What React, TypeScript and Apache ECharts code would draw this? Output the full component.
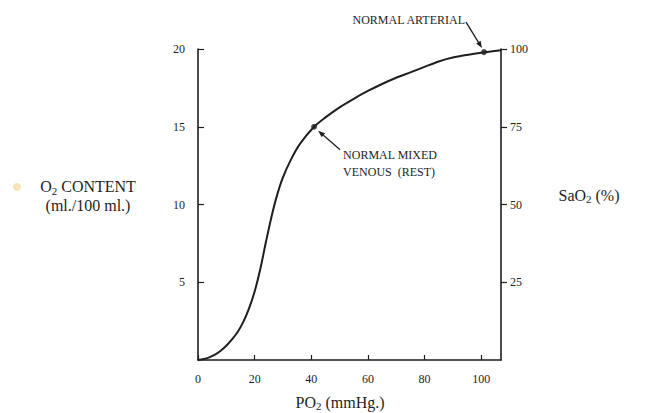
import React, { useEffect, useRef } from "react";
import * as echarts from "echarts";

const po2 = [0, 2, 4, 6, 8, 10, 12, 14, 16, 18, 20, 22, 24, 26, 28, 30, 33, 36, 41, 45, 50, 55, 60, 65, 70, 75, 80, 85, 90, 95, 100, 107];
const o2Content = [0, 0.06, 0.17, 0.34, 0.6, 0.92, 1.32, 1.8, 2.45, 3.3, 4.4, 5.85, 7.6, 9.25, 10.65, 11.75, 12.95, 13.9, 15.0, 15.6, 16.25, 16.8, 17.3, 17.75, 18.15, 18.5, 18.85, 19.2, 19.45, 19.62, 19.76, 19.92];
const keyPo2 = [41, 101];
const keyContent = [15, 19.8];
const xTicks = [0, 20, 40, 60, 80, 100];

const FONT = "Liberation Serif";
const INK = "#1e1e1e";

function arrow(x1: number, y1: number, x2: number, y2: number) {
  const ang = Math.atan2(y2 - y1, x2 - x1);
  const len = 7;
  const w = 2.6;
  const bx = x2 - len * Math.cos(ang);
  const by = y2 - len * Math.sin(ang);
  const px = -Math.sin(ang) * w;
  const py = Math.cos(ang) * w;
  return [
    { type: "line", shape: { x1, y1, x2: bx, y2: by }, style: { stroke: INK, lineWidth: 1.3 } },
    {
      type: "polygon",
      shape: { points: [[x2, y2], [bx + px, by + py], [bx - px, by - py]] },
      style: { fill: INK },
    },
  ];
}

export default function App() {
  const ref = useRef<HTMLDivElement>(null);
  useEffect(() => {
    if (!ref.current) return;
    document.body.style.margin = "0";
    const chart = echarts.init(ref.current, null, { renderer: "svg" });
    const axisCommon = {
      axisLine: { show: true, lineStyle: { color: INK, width: 1.6 } },
      splitLine: { show: false },
      axisLabel: { color: INK, fontFamily: FONT, fontSize: 12 },
    };
    chart.setOption({
      animation: false,
      backgroundColor: "#ffffff",
      grid: { left: 198, right: 150, top: 49, bottom: 53, containLabel: false },
      xAxis: {
        type: "value",
        min: 0,
        max: 107,
        interval: 20,
        ...axisCommon,
        axisTick: { show: true, inside: true, length: 5, lineStyle: { color: INK, width: 1.2 } },
        axisLabel: {
          ...axisCommon.axisLabel,
          margin: 13,
          showMaxLabel: false,
          formatter: (v: number) => (xTicks.indexOf(v) >= 0 ? String(v) : ""),
        },
      },
      yAxis: [
        {
          type: "value",
          min: 0,
          max: 20,
          interval: 5,
          position: "left",
          ...axisCommon,
          axisTick: { show: true, inside: true, length: 6, lineStyle: { color: INK, width: 1.2 } },
          axisLabel: { ...axisCommon.axisLabel, margin: 13, showMinLabel: false },
        },
        {
          type: "value",
          min: 0,
          max: 100,
          interval: 25,
          position: "right",
          ...axisCommon,
          axisTick: { show: true, inside: false, length: 6, lineStyle: { color: INK, width: 1.2 } },
          axisLabel: { ...axisCommon.axisLabel, margin: 9, showMinLabel: false },
        },
      ],
      series: [
        {
          type: "line",
          data: po2.map((x, i) => [x, o2Content[i]]),
          smooth: 0.3,
          showSymbol: false,
          lineStyle: { color: INK, width: 2 },
        },
        {
          type: "scatter",
          data: keyPo2.map((x, i) => [x, keyContent[i]]),
          symbolSize: 6,
          itemStyle: { color: INK },
        },
      ],
    });

    const ven = chart.convertToPixel({ xAxisIndex: 0, yAxisIndex: 0 }, [keyPo2[0], keyContent[0]]) as number[];
    const art = chart.convertToPixel({ xAxisIndex: 0, yAxisIndex: 0 }, [keyPo2[1], keyContent[1]]) as number[];

    const txt = (x: number, y: number, text: string, size: number, align = "left") => ({
      type: "text",
      x,
      y,
      style: { text, fill: INK, font: `${size}px "${FONT}"`, align, verticalAlign: "middle" },
    });
    const richStyle = {
      a: { fontFamily: FONT, fontSize: 16, lineHeight: 19, fill: INK, verticalAlign: "middle" },
      s: { fontFamily: FONT, fontSize: 11, lineHeight: 11, fill: INK, verticalAlign: "bottom" },
    };

    chart.setOption({
      graphic: [
        { type: "circle", shape: { cx: 17, cy: 187, r: 4 }, style: { fill: "#f4e4b8" } },
        {
          type: "text",
          x: 88,
          y: 196,
          style: {
            text: "{a|O}{s|2}{a| CONTENT}\n{a|(ml./100 ml.)}",
            align: "center",
            verticalAlign: "middle",
            fill: INK,
            rich: richStyle,
          },
        },
        {
          type: "text",
          x: 589,
          y: 195,
          style: { text: "{a|SaO}{s|2}{a| (%)}", align: "center", verticalAlign: "middle", fill: INK, rich: richStyle },
        },
        {
          type: "text",
          x: 340,
          y: 402,
          style: { text: "{a|PO}{s|2}{a| (mmHg.)}", align: "center", verticalAlign: "middle", fill: INK, rich: richStyle },
        },
        txt(art[0] - 19, art[1] - 32, "NORMAL ARTERIAL", 12, "right"),
        ...arrow(art[0] - 18, art[1] - 30, art[0] - 2, art[1] - 4),
        txt(ven[0] + 29, ven[1] + 28, "NORMAL MIXED", 12),
        txt(ven[0] + 29, ven[1] + 45, "VENOUS  (REST)", 12),
        ...arrow(ven[0] + 26, ven[1] + 23, ven[0] + 4, ven[1] + 4),
      ],
    });

    return () => chart.dispose();
  }, []);
  return <div ref={ref} style={{ width: 651, height: 413 }} />;
}
